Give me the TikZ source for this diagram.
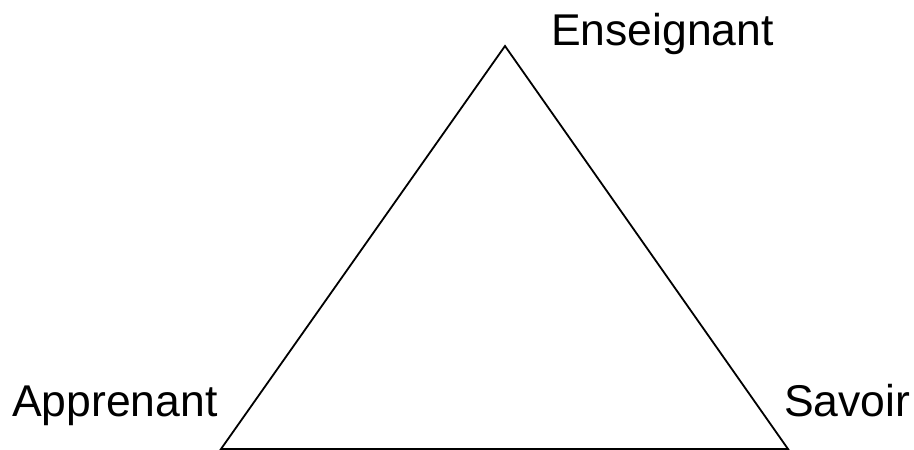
\documentclass[tikz,border=0pt]{standalone}
\usepackage{fontspec}
\setmainfont{Liberation Sans}
\begin{document}
\begin{tikzpicture}[x=1pt,y=-1pt,
  lbl/.style={inner sep=0pt,anchor=base west,font=\fontsize{44.5}{50}\selectfont},
  edge/.style={line width=1.8pt,line join=miter}]
\useasboundingbox (0,0) rectangle (914,450);
\coordinate (T) at (505,46);
\coordinate (L) at (221,449);
\coordinate (R) at (788,449);
\draw[edge] (T) -- (L) -- (R) -- cycle;
\node[lbl] (ens) at (551,45) {Enseignant};
\node[lbl] (app) at (12,416) {Apprenant};
\node[lbl] (sav) at (784,416) {Savoir};
\end{tikzpicture}
\end{document}
